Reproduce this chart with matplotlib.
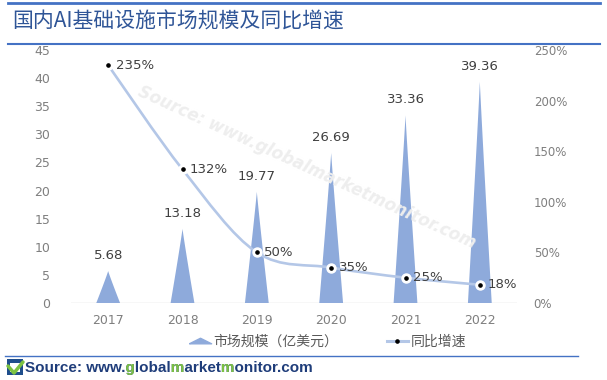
import numpy as np
import matplotlib.pyplot as plt
from matplotlib.path import Path
from matplotlib.patches import PathPatch, Rectangle
from matplotlib.lines import Line2D
from matplotlib.transforms import Bbox

plt.rcParams['font.family'] = ['Noto Sans CJK SC', 'DejaVu Sans']

# data
years = ['2017', '2018', '2019', '2020', '2021', '2022']
market_size = [5.68, 13.18, 19.77, 26.69, 33.36, 39.36]   # 亿美元
yoy_growth = [235, 132, 50, 35, 25, 18]                    # %

title = '国内AI基础设施市场规模及同比增速'
bar_label = '市场规模（亿美元）'
line_label = '同比增速'
source_text = 'Source: www.globalmarketmonitor.com'
green_letters = [12, 18, 24]   # indices of the green g / m / m

bar_color = '#8eaadb'
line_color = '#b4c7e7'
tick_color = '#7f7f7f'
label_color = '#404040'

fig = plt.figure(figsize=(6.07, 3.8), dpi=100)
ax = fig.add_axes([71 / 607, 1 - 303 / 380, 446 / 607, 253 / 380])
ax2 = ax.twinx()

x = np.arange(len(years))

# pointed "spike" bars
half_w = 0.16
t = np.linspace(0, 1, 40)
for xi, v in zip(x, market_size):
    off = half_w * (1 - t) ** 1.05
    xs = np.concatenate([xi - off, (xi + off)[::-1]])
    ys = np.concatenate([v * t, (v * t)[::-1]])
    ax.fill(xs, ys, color=bar_color, lw=0, zorder=2)
    ax.text(xi, v + 1.6, f'{v:.2f}', ha='center', va='bottom', fontsize=9.5,
            color=label_color, family='DejaVu Sans')

ax.set_xlim(-0.5, len(years) - 0.5)
ax.set_ylim(0, 45)
ax.set_yticks(range(0, 46, 5))
ax.set_xticks(x)
ax.set_xticklabels(years)
ax.axhline(0, color='#d9d9d9', lw=1, zorder=1)

# smoothed growth line (bezier through the points)
pts = np.column_stack([x, yoy_growth]).astype(float)
verts = [tuple(pts[0])]
codes = [Path.MOVETO]
n = len(pts)
for i in range(n - 1):
    p0 = pts[max(i - 1, 0)]
    p1 = pts[i]
    p2 = pts[i + 1]
    p3 = pts[min(i + 2, n - 1)]
    c1 = p1 + (p2 - p0) / 6
    c2 = p2 - (p3 - p1) / 6
    verts += [tuple(c1), tuple(c2), tuple(p2)]
    codes += [Path.CURVE4] * 3
ax2.add_patch(PathPatch(Path(verts, codes), fill=False, edgecolor=line_color, lw=1.9, zorder=3))
ax2.plot(x, yoy_growth, ls='none', marker='o', ms=6.5, mfc='white', mec='white', zorder=4)
ax2.plot(x, yoy_growth, ls='none', marker='o', ms=2.3, mfc='black', mec='black', zorder=5)
for xi, v in zip(x, yoy_growth):
    ax2.text(xi + 0.1, v, f'{v}%', ha='left', va='center', fontsize=9.5,
             color=label_color, family='DejaVu Sans')

ax2.set_ylim(0, 250)
ax2.set_yticks(range(0, 251, 50))
ax2.set_yticklabels([f'{v}%' for v in range(0, 251, 50)])

for a in (ax, ax2):
    for s in a.spines.values():
        s.set_visible(False)
    a.tick_params(length=0, colors=tick_color, labelsize=9)
ax.tick_params(axis='x', pad=8)
ax.tick_params(axis='y', pad=15)
ax2.tick_params(axis='y', pad=12, labelsize=8.5)
for lab in ax.get_xticklabels() + ax.get_yticklabels() + ax2.get_yticklabels():
    lab.set_family('DejaVu Sans')

# watermark
fig.text(0.505, 0.56, 'Source: www.globalmarketmonitor.com', rotation=-24.5,
         ha='center', va='center', fontsize=12, fontstyle='italic', fontweight='bold',
         color='#eeeeee', family='DejaVu Sans', zorder=0)

# title and rules
fig.add_artist(Line2D([8 / 607, 600 / 607], [1 - 3 / 380] * 2, color='#4472c4', lw=2))
fig.text(12 / 607, 1 - 22 / 380, title, fontsize=15, color='#2f5597', va='center', ha='left')
fig.add_artist(Line2D([8 / 607, 600 / 607], [1 - 44 / 380] * 2, color='#4472c4', lw=1.5))

# legend
flat_tri = [(-1.2, -0.25), (1.2, -0.25), (0, 0.35), (-1.2, -0.25)]
handles = [
    Line2D([], [], ls='none', marker=flat_tri, ms=16, color=bar_color),
    Line2D([], [], color=line_color, lw=2.2, marker='o', ms=2.3, mfc='black', mec='black'),
]
fig.legend(handles, [bar_label, line_label], loc='center', bbox_to_anchor=(0.54, 1 - 342 / 380),
           ncol=2, frameon=False, fontsize=10, labelcolor='#595959', columnspacing=3.5,
           handlelength=1.5, handletextpad=0.2)

fig.add_artist(Line2D([5 / 607, 578 / 607], [1 - 356 / 380] * 2, color='#4472c4', lw=1))

# source line with small logo
fig.add_artist(Rectangle((7 / 607, 1 - 375 / 380), 16 / 607, 16 / 380, transform=fig.transFigure,
                         facecolor='#1f4e8c', edgecolor='none'))
fig.add_artist(Rectangle((10 / 607, 1 - 372 / 380), 10 / 607, 9 / 380, transform=fig.transFigure,
                         facecolor='white', edgecolor='none'))
fig.add_artist(Line2D([8 / 607, 14 / 607, 23 / 607], [1 - 366 / 380, 1 - 373 / 380, 1 - 362 / 380],
                      color='#7cc242', lw=2.5, solid_capstyle='round'))

# one blue string, plus copies in green clipped to each g / m / m letter
renderer = fig.canvas.get_renderer()
src_kw = dict(fontsize=11, fontweight='bold', family='Liberation Sans', va='baseline', ha='left')
sx, sy = 25 / 607, 1 - 372 / 380
fig.text(sx, sy, source_text, color='#1f3d7a', **src_kw)


def right_edge(s):
    tmp = fig.text(sx, sy, s, **src_kw)
    r = tmp.get_window_extent(renderer).x1
    tmp.remove()
    return r


for i in green_letters:
    x_left = right_edge(source_text[:i]) + 0.5
    x_right = right_edge(source_text[:i + 1]) + 0.5
    g = fig.text(sx, sy, source_text, color='#7cc242', **src_kw)
    g.set_clip_box(Bbox([[x_left, 0], [x_right, fig.bbox.height]]))
    g.set_clip_on(True)

fig.savefig('out.png', dpi=100)
